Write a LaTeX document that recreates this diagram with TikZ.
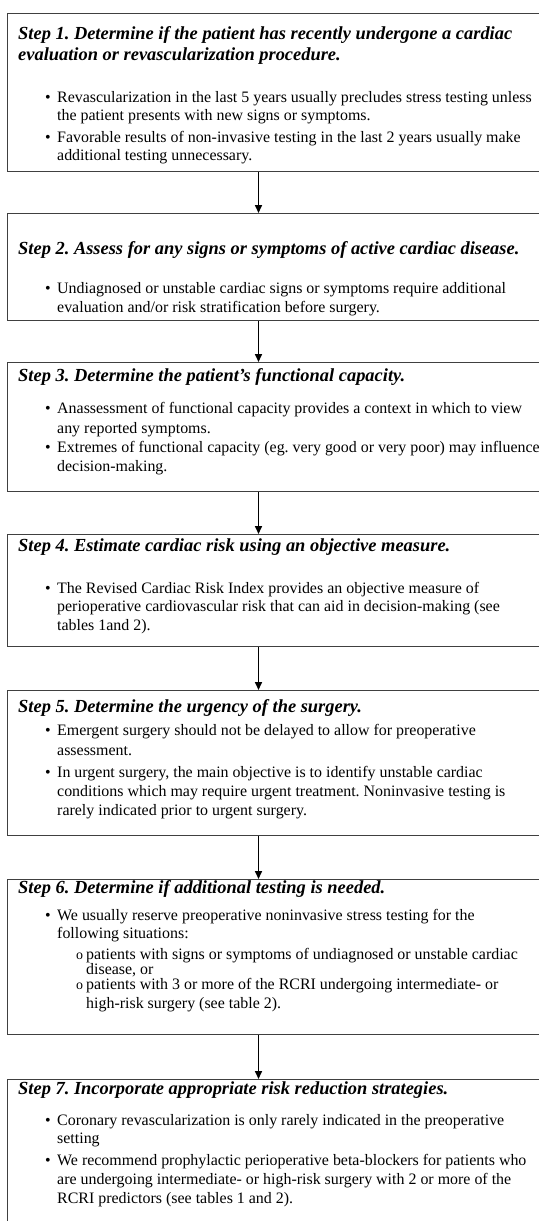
\documentclass[tikz,border=0pt]{standalone}
\usepackage{fontspec}
\setmainfont{Liberation Serif}
\usetikzlibrary{arrows.meta}
\definecolor{boxgray}{HTML}{404040}
\frenchspacing
\begin{document}
\begin{tikzpicture}[x=1bp,y=-1bp,
  box/.style={draw=boxgray,line width=1.4bp,anchor=north west,inner sep=0,minimum width=545bp},
  head/.style={anchor=base west,inner sep=0,font=\fontsize{18.5}{21}\selectfont\bfseries\itshape},
  body/.style={anchor=base west,inner sep=0,font=\fontsize{16}{19}\selectfont},
  subo/.style={anchor=base west,inner sep=0,font=\fontsize{14}{19}\selectfont},
  link/.style={line width=1.6bp,draw=black,-{Triangle[length=8bp,width=7bp]}}]
\useasboundingbox (0,0) rectangle (539,1221);
\clip (0,0) rectangle (539,1221);
% boxes
\node[box,minimum height=158bp] (b1) at (7,13) {};
\node[box,minimum height=107bp] (b2) at (7,213) {};
\node[box,minimum height=129bp] (b3) at (7,362) {};
\node[box,minimum height=112bp] (b4) at (7,534) {};
\node[box,minimum height=145bp] (b5) at (7,690) {};
\node[box,minimum height=155bp] (b6) at (7,879) {};
\node[box,minimum height=170bp] (b7) at (7,1079) {};
\coordinate (ax) at (258.5,0);
\draw[link] (b1.south -| ax) -- (b2.north -| ax);
\draw[link] (b2.south -| ax) -- (b3.north -| ax);
\draw[link] (b3.south -| ax) -- (b4.north -| ax);
\draw[link] (b4.south -| ax) -- (b5.north -| ax);
\draw[link] (b5.south -| ax) -- (b6.north -| ax);
\draw[link] (b6.south -| ax) -- (b7.north -| ax);
% Step 1
\node[head] (h1a) at (18,39) {Step 1. Determine if the patient has recently undergone a cardiac};
\node[head] (h1b) at (18,60) {evaluation or revascularization procedure.};
\node[body] (p1a) at (45,102) {•};
\node[body] (t1a) at (57,102) {Revascularization in the last 5 years usually precludes stress testing unless};
\node[body] (t1b) at (57,120) {the patient presents with new signs or symptoms.};
\node[body] (p1b) at (45,142) {•};
\node[body] (t1c) at (57,142) {Favorable results of non-invasive testing in the last 2 years usually make};
\node[body] (t1d) at (57,160) {additional testing unnecessary.};
% Step 2
\node[head] (h2) at (18,254) {Step 2. Assess for any signs or symptoms of active cardiac disease.};
\node[body] (p2a) at (45,293) {•};
\node[body] (t2a) at (57,293) {Undiagnosed or unstable cardiac signs or symptoms require additional};
\node[body] (t2b) at (57,312) {evaluation and/or risk stratification before surgery.};
% Step 3
\node[head] (h3) at (18,381) {Step 3. Determine the patient’s functional capacity.};
\node[body] (p3a) at (45,413) {•};
\node[body] (t3a) at (57,413) {Anassessment of functional capacity provides a context in which to view};
\node[body] (t3b) at (57,433) {any reported symptoms.};
\node[body] (p3b) at (45,452) {•};
\node[body] (t3c) at (57,452) {Extremes of functional capacity (eg. very good or very poor) may influence};
\node[body] (t3d) at (57,471) {decision-making.};
% Step 4
\node[head] (h4) at (18,551) {Step 4. Estimate cardiac risk using an objective measure.};
\node[body] (p4a) at (45,593) {•};
\node[body] (t4a) at (57,593) {The Revised Cardiac Risk Index provides an objective measure of};
\node[body] (t4b) at (57,611) {perioperative cardiovascular risk that can aid in decision-making (see};
\node[body] (t4c) at (57,630) {tables 1and 2).};
% Step 5
\node[head] (h5) at (18,712) {Step 5. Determine the urgency of the surgery.};
\node[body] (p5a) at (45,735) {•};
\node[body] (t5a) at (57,735) {Emergent surgery should not be delayed to allow for preoperative};
\node[body] (t5b) at (57,755) {assessment.};
\node[body] (p5b) at (45,777) {•};
\node[body] (t5c) at (57,777) {In urgent surgery, the main objective is to identify unstable cardiac};
\node[body] (t5d) at (57,796) {conditions which may require urgent treatment. Noninvasive testing is};
\node[body] (t5e) at (57,815) {rarely indicated prior to urgent surgery.};
% Step 6
\node[head] (h6) at (18,893) {Step 6. Determine if additional testing is needed.};
\node[body] (p6a) at (45,920) {•};
\node[body] (t6a) at (57,920) {We usually reserve preoperative noninvasive stress testing for the};
\node[body] (t6b) at (57,938) {following situations:};
\node[subo] (p6b) at (76,959) {o};
\node[body] (t6c) at (86,959) {patients with signs or symptoms of undiagnosed or unstable cardiac};
\node[body] (t6d) at (86,974) {disease, or};
\node[subo] (p6c) at (76,989) {o};
\node[body] (t6e) at (86,989) {patients with 3 or more of the RCRI undergoing intermediate- or};
\node[body] (t6f) at (86,1008) {high-risk surgery (see table 2).};
% Step 7
\node[head] (h7) at (18,1094) {Step 7. Incorporate appropriate risk reduction strategies.};
\node[body] (p7a) at (45,1125) {•};
\node[body] (t7a) at (57,1125) {Coronary revascularization is only rarely indicated in the preoperative};
\node[body] (t7b) at (57,1143) {setting};
\node[body] (p7b) at (45,1165) {•};
\node[body] (t7c) at (57,1165) {We recommend prophylactic perioperative beta-blockers for patients who};
\node[body] (t7d) at (57,1184) {are undergoing intermediate- or high-risk surgery with 2 or more of the};
\node[body] (t7e) at (57,1203) {RCRI predictors (see tables 1 and 2).};
\end{tikzpicture}
\end{document}
